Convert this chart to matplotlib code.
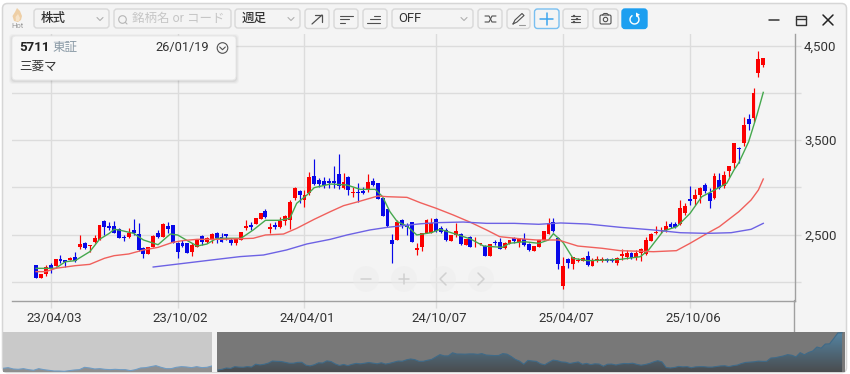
import numpy as np
import matplotlib
matplotlib.use('Agg')
import matplotlib.pyplot as plt
from matplotlib.patches import FancyBboxPatch, Circle, Rectangle, Polygon
from matplotlib.ticker import FixedLocator, FuncFormatter, NullFormatter
from matplotlib.transforms import ScaledTranslation

plt.rcParams['font.family'] = ['Roboto', 'Noto Sans CJK JP', 'DejaVu Sans']

# weekly candles
opens = [2177,2036,2082,2177,2170,2241,2227,2230,2262,2364,2406,2382,2421,2442,2639,2586,2590,2562,2477,2470,
         2544,2509,2353,2290,2371,2512,2477,2593,2597,2413,2406,2406,2318,2371,2484,2424,2449,2519,2477,2502,
         2442,2407,2442,2569,2601,2611,2664,2752,2562,2597,2583,2643,2654,2883,2964,2865,2936,3119,3077,3070,
         3063,3070,3137,2996,3105,2943,2946,2964,2971,3063,3041,2886,2766,2442,2442,2654,2604,2629,2336,2364,
         2520,2520,2664,2565,2548,2431,2491,2502,2389,2474,2417,2396,2382,2273,2424,2417,2354,2400,2460,2417,
         2453,2400,2329,2364,2442,2502,2629,2467,1959,2237,2188,2216,2220,2273,2167,2223,2223,2241,2237,2202,
         2272,2265,2301,2265,2301,2290,2435,2512,2534,2548,2608,2608,2608,2724,2872,2872,2922,3020,2936,2883,
         3073,3013,3175,3253,3412,3472,3726,3729,4205,4293]
highs = [2177,2082,2177,2195,2244,2283,2227,2265,2318,2498,2420,2392,2495,2600,2653,2636,2639,2570,2495,2565,
         2660,2618,2371,2370,2490,2548,2625,2636,2600,2420,2442,2410,2406,2449,2495,2470,2519,2525,2512,2510,
         2460,2456,2527,2654,2636,2671,2724,2766,2618,2636,2682,2706,2865,3006,2971,2971,3165,3295,3094,3112,
         3094,3225,3348,3147,3119,3006,3041,2999,3140,3094,3048,2890,2770,2502,2654,2660,2618,2636,2407,2512,
         2660,2671,2671,2590,2565,2495,2618,2512,2449,2484,2477,2415,2385,2396,2442,2460,2424,2445,2477,2467,
         2512,2407,2378,2442,2541,2671,2678,2477,2266,2248,2266,2248,2266,2322,2248,2276,2266,2255,2255,2266,
         2343,2336,2310,2336,2353,2477,2512,2590,2576,2643,2629,2636,2865,2830,3013,2978,3006,3048,2988,3147,
         3154,3175,3225,3472,3422,3740,3775,4047,4445,4364]
lows = [2036,2036,2061,2096,2170,2202,2152,2230,2212,2343,2345,2318,2406,2440,2495,2548,2512,2459,2435,2459,
        2495,2329,2248,2290,2371,2459,2470,2512,2413,2248,2371,2308,2272,2365,2389,2410,2406,2406,2424,2442,
        2389,2389,2442,2548,2548,2611,2664,2671,2519,2555,2565,2601,2555,2865,2830,2795,2918,3024,3006,2989,
        2989,2989,2978,2978,2918,2900,2840,2929,2953,3013,2872,2696,2576,2195,2442,2565,2495,2417,2283,2326,
        2520,2515,2523,2512,2431,2431,2477,2389,2389,2364,2371,2385,2273,2270,2389,2343,2343,2395,2407,2371,
        2378,2326,2329,2364,2442,2502,2530,2135,1920,2142,2135,2209,2216,2167,2167,2213,2213,2206,2212,2177,
        2230,2237,2237,2230,2223,2283,2435,2505,2512,2530,2565,2565,2601,2706,2812,2812,2830,2943,2777,2872,
        2978,2988,3112,3200,3260,3436,3606,3694,4163,4269]
closes = [2036,2082,2160,2131,2244,2216,2205,2248,2220,2399,2353,2392,2463,2597,2576,2569,2519,2459,2459,2512,
          2519,2336,2294,2364,2484,2473,2607,2562,2413,2318,2382,2308,2392,2449,2421,2459,2505,2463,2424,2488,
          2407,2456,2527,2594,2583,2671,2724,2682,2576,2579,2643,2696,2848,2996,2918,2918,3112,3034,3034,3024,
          3041,3041,3013,3059,2971,2953,2936,2943,3059,3027,2879,2696,2590,2400,2636,2601,2576,2424,2361,2512,
          2654,2618,2541,2523,2442,2495,2541,2396,2449,2371,2424,2407,2273,2396,2407,2347,2407,2442,2431,2460,
          2389,2336,2378,2442,2541,2618,2541,2188,2163,2195,2259,2230,2248,2177,2230,2244,2241,2216,2216,2255,
          2290,2301,2248,2308,2343,2442,2509,2530,2548,2590,2576,2576,2784,2802,2858,2914,2996,2957,2854,3119,
          2988,3130,3221,3472,3401,3659,3669,4001,4353,4364]

# moving averages, as (week, price) readings
green_x = [0,2,4,6,8,11,13,15,16,17,20,22,25,27.5,29,31,33,35,37,38,42,44.5,47,49.7,52,53.4,55.5,57,60.3,63.7,66.4,
           69.5,71,72.5,74,76,78,81,82.8,85.5,89,91.7,95.5,97,100,103,105,106,108,110,113,117,119.7,123.8,125.5,
           128.5,131.3,134,136.4,138,141.5,143,144,146,147.7,149]
green_y = [2142,2142,2142,2212,2223,2318,2449,2512,2555,2548,2512,2442,2392,2505,2495,2435,2378,2399,2459,2460,2460,
           2548,2650,2650,2671,2830,2918,2996,3034,3024,2978,2978,2900,2742,2636,2590,2495,2520,2555,2512,2453,2378,
           2364,2407,2424,2407,2442,2509,2414,2248,2223,2230,2237,2265,2336,2537,2583,2724,2900,2943,3041,3183,3260,
           3482,3764,4004]
red_x = [0,2,4,8,11,14,16,19,22,25,28,30,33,36,38,44.5,47,50.7,53.4,57,60.3,63,66,70,72,76,78.7,82,85.5,89,92.3,95,
         99,102.5,107,111,116,119.7,126.5,131.2,134,137.5,140,144,146.5,148,149]
red_y = [2107,2107,2142,2170,2184,2248,2276,2294,2336,2364,2417,2435,2449,2449,2449,2460,2495,2505,2565,2661,2742,2805,
         2847,2907,2900,2893,2837,2777,2706,2629,2548,2477,2456,2442,2442,2378,2354,2329,2318,2329,2407,2512,2583,
         2742,2865,2971,3087]
blue_x = [24,37.7,41.8,46.6,51.3,55.5,60.3,63.7,68.4,72,78.7,82,87.5,92.3,98,103,107.5,113,119.7,126.5,132,137.5,142.4,
          146.5,149]
blue_y = [2156,2241,2266,2283,2336,2400,2449,2495,2548,2576,2613,2625,2632,2618,2618,2608,2622,2611,2576,2548,2519,2512,
          2519,2555,2618]

# older closes that only show in the navigator
nav_history = [2141,2182,2099,2078,2120,2057,2016,2120,2057,2016,1974,1974,1953,1995,2036,2057,2203,2162,2099,2120,2078,
               2057,2078,2057,2057,1995,2057,2162,2182,2245,2307,2203,2120,2120,2203,2245,2224,2182,2245,2182,2203,2287]

grid_prices = [2000, 2500, 3000, 3500, 4000, 4500]
label_prices = [2500, 3500, 4500]
date_weeks = [3, 29, 55, 82, 108, 134]
date_labels = ['23/04/03', '23/10/02', '24/04/01', '24/10/07', '25/04/07', '25/10/06']

UP = '#fb0000'
DOWN = '#0808e8'
GRID = '#dcdcdc'
AXIS = '#a0a0a0'
TEXT = '#333333'
BORDER = '#d8d8d8'
ICON = '#505050'
BG = '#f4f4f4'
W, H = 850, 374


def box(a, x0, y0, x1, y1, fc=BG, ec=BORDER, r=3, lw=1.0, z=2):
    a.add_patch(FancyBboxPatch((x0 + r, y0 + r), x1 - x0 - 2 * r, y1 - y0 - 2 * r,
                               boxstyle='round,pad=%s,rounding_size=%s' % (r, r),
                               fc=fc, ec=ec, lw=lw, zorder=z))


def line(a, xs, ys, c=ICON, lw=0.9, z=4):
    a.plot(xs, ys, color=c, lw=lw, zorder=z, solid_capstyle='round', solid_joinstyle='round')


def chevron(a, cx, cy, c='#b0b0b0'):
    line(a, [cx - 3, cx, cx + 3], [cy - 1.5, cy + 1.5, cy - 1.5], c=c, lw=0.8)


def px_axes(z):
    a = fig.add_axes([0, 0, 1, 1], zorder=z)
    a.set_xlim(0, W)
    a.set_ylim(H, 0)
    a.axis('off')
    return a


def inset(x0, y0, x1, y1, z=2):
    return fig.add_axes([x0 / W, (H - y1) / H, (x1 - x0) / W, (y1 - y0) / H], zorder=z)


def navigator(a, xs, ys, bg, col, top, bottom, xlim):
    a.set_facecolor(bg)
    poly = a.fill_between(xs, ys, 1911, color='none')
    grad = np.linspace(0, 1, 64)[:, None, None] * (np.array(bottom) - np.array(top)) + np.array(top)
    im = a.imshow(grad, extent=[xs[0], xs[-1], 1911, 4411], origin='upper', aspect='auto', zorder=1)
    im.set_clip_path(poly.get_paths()[0], transform=a.transData)
    a.plot(xs, ys, color=col, lw=0.8, zorder=2)
    a.set_xlim(*xlim)
    a.set_ylim(1911, 4411)
    a.set_xticks([])
    a.set_yticks([])
    for s in a.spines.values():
        s.set_visible(False)


fig = plt.figure(figsize=(8.5, 3.74), dpi=100, facecolor='white')

# window and toolbar
ui = px_axes(0)
box(ui, 2.5, 3.5, 846.5, 372.5, fc=BG, ec='#d6d6d6', r=5, lw=1.1, z=1)

# flame icon
ui.add_patch(Polygon([(14, 21), (12.5, 16), (15, 12), (17, 8), (20, 11), (22, 16), (21, 20), (18, 22)],
                     fc='#eecfa6', ec='none', zorder=3))
ui.add_patch(Polygon([(16, 21), (15.5, 17), (18, 14), (20, 18), (19, 21)], fc='#f6e3c9', ec='none', zorder=4))
ui.text(18, 25.5, 'Hot', fontsize=5.5, color='#999999', ha='center', va='center')

box(ui, 34, 9, 109, 28)
ui.text(41, 18.5, '株式', fontsize=9, color=TEXT, va='center', fontweight='medium')
chevron(ui, 100, 19)
box(ui, 114, 9, 231, 28)
ui.add_patch(Circle((122.5, 19.5), 3.8, fc='none', ec='#b5b5b5', lw=0.8, zorder=4))
line(ui, [125.5, 127], [22.5, 24], c='#b5b5b5', lw=0.8)
ui.text(132.5, 18.5, '銘柄名 or コード', fontsize=9, color='#c6c6c6', va='center')
box(ui, 235, 9, 300, 28)
ui.text(242, 18.5, '週足', fontsize=9, color=TEXT, va='center', fontweight='medium')
chevron(ui, 291, 19)
box(ui, 392, 9, 473, 28)
ui.text(398.5, 18.5, 'OFF', fontsize=9.4, color=TEXT, va='center')
chevron(ui, 464, 19)

for x0, x1 in [(305, 329), (334, 358), (363, 387), (478, 502), (507, 530), (563, 588), (593, 618)]:
    box(ui, x0, 9, x1, 28.5)
box(ui, 534.5, 9, 559, 28.5, ec='#79bff0')
box(ui, 622, 9, 647, 28.5, fc='#1d9ff0', ec='#1d9ff0')

# toolbar glyphs
line(ui, [312, 322], [24, 15])
line(ui, [315.5, 322, 322], [15, 15, 21.5])
for y, x1 in [(15.5, 353), (19, 349), (22.5, 345)]:
    line(ui, [340, x1], [y, y], lw=0.8)
for y, x0 in [(15.5, 374), (19, 370), (22.5, 367)]:
    line(ui, [x0, 380], [y, y], lw=0.8)
line(ui, [485, 489, 492, 496], [16, 16, 22, 22], lw=0.8)
line(ui, [485, 489, 492, 496], [22, 22, 16, 16], lw=0.8)
line(ui, [513, 515, 522, 524, 517, 513], [24, 20, 13.5, 15.5, 22, 24], lw=0.8)
line(ui, [519, 525], [24.5, 24.5], c='#999999', lw=0.8)
line(ui, [547, 547], [13, 25], c='#3da5ee', lw=1.1)
line(ui, [540.5, 553.5], [19, 19], c='#3da5ee', lw=1.1)
for y in (16, 19, 22):
    line(ui, [571, 580], [y, y], lw=0.8)
for cx, y in [(574, 16), (577, 19), (574, 22)]:
    ui.add_patch(Circle((cx, y), 1.2, fc=ICON, ec='none', zorder=5))
ui.add_patch(FancyBboxPatch((600, 15), 11, 9, boxstyle='round,pad=0,rounding_size=1.5', fc='none', ec=ICON, lw=0.8,
                            zorder=4))
line(ui, [602.5, 604, 607, 608.5], [15, 13.5, 13.5, 15], lw=0.8)
ui.add_patch(Circle((605.5, 19.5), 2.2, fc='none', ec=ICON, lw=0.8, zorder=5))
theta = np.radians(np.arange(-50, 250, 15))
ui.plot(634.5 + 4.5 * np.cos(theta), 19.5 + 4.5 * np.sin(theta), color='white', lw=1.0, zorder=5)
ui.add_patch(Polygon([(636, 12.5), (640, 14.8), (636, 17)], fc='white', ec='none', zorder=5))

# window buttons
line(ui, [769, 779], [20, 20], c='#333333', lw=1.1)
ui.add_patch(Rectangle((796, 15.5), 10.5, 9.5, fc='none', ec='#333333', lw=1.0, zorder=4))
line(ui, [796, 806.5], [18.5, 18.5], c='#333333', lw=1.0)
line(ui, [823, 833], [15, 25], c='#222222', lw=1.1)
line(ui, [823, 833], [25, 15], c='#222222', lw=1.1)

# price chart
ax = inset(12, 34, 795, 301, z=1)
ax.patch.set_alpha(0)
x = np.arange(len(closes))
opens_a, closes_a = np.array(opens), np.array(closes)
up = closes_a >= opens_a
colors = np.where(up, UP, DOWN)
ax.vlines(x, lows, highs, colors=colors, lw=0.85, zorder=3)
ax.bar(x, np.abs(closes_a - opens_a), bottom=np.minimum(opens_a, closes_a), width=0.8, color=colors, lw=0, zorder=3)
ax.plot(green_x, green_y, color='#45a84e', lw=1.0, zorder=4)
ax.plot(red_x, red_y, color='#f0605c', lw=1.0, zorder=4)
ax.plot(blue_x, blue_y, color='#6d62e4', lw=1.0, zorder=4)

ax.set_xlim(-4.93, 155.5)
ax.set_ylim(1796.3, 4621.7)
ax.yaxis.tick_right()
ax.yaxis.set_major_locator(FixedLocator(label_prices))
ax.yaxis.set_major_formatter(FuncFormatter(lambda v, p: format(int(v), ',')))
ax.yaxis.set_minor_locator(FixedLocator([p for p in grid_prices if p not in label_prices]))
ax.yaxis.set_minor_formatter(NullFormatter())
ax.set_xticks(date_weeks)
ax.set_xticklabels(date_labels)
ax.grid(True, which='both', color=GRID, lw=1.0, zorder=0)
ax.set_axisbelow(True)
ax.tick_params(axis='y', which='both', length=4, color=GRID, width=1.0, labelsize=9.5, labelcolor=TEXT, pad=2.6)
ax.tick_params(axis='x', length=5, color=GRID, width=1.0, labelsize=9.5, labelcolor=TEXT, pad=3)
# the date labels sit a little right of their ticks
shift = ScaledTranslation(3 / 100, 0, fig.dpi_scale_trans)
for lab in ax.get_xticklabels():
    lab.set_transform(lab.get_transform() + shift)
for side in ('top', 'left'):
    ax.spines[side].set_visible(False)
for side in ('bottom', 'right'):
    ax.spines[side].set_color(AXIS)
    ax.spines[side].set_linewidth(1.0)
line(ui, [794.5, 794.5], [300, 332], c=AXIS, lw=1.0, z=2)

# navigator
ui.add_patch(Rectangle((212, 332), 5, 40, fc='#f2f2f2', ec='none', zorder=3))
nav_left = inset(3, 332, 212, 372)
navigator(nav_left, np.arange(len(nav_history)), nav_history, '#c9c9c9', '#6f9cc4',
          (0.60, 0.64, 0.68), (0.56, 0.56, 0.56), (0, len(nav_history) - 1))
nav_right = inset(217, 332, 845, 372)
navigator(nav_right, x, closes, '#787878', '#3f6a88',
          (0.33, 0.52, 0.64), (0.29, 0.30, 0.31), (-0.24, 149.7))

# overlay: info card and pan buttons
top = px_axes(3)
for grow, a in [(3, 0.025), (2, 0.035), (1, 0.05)]:
    top.add_patch(FancyBboxPatch((16 - grow, 40 - grow + 1), 216 + 2 * grow, 36 + 2 * grow,
                                 boxstyle='round,pad=4,rounding_size=4', fc='black', ec='none', alpha=a, zorder=1))
box(top, 12, 36, 236, 80, fc='#f7f7f7', ec='#e8e8e8', r=4, lw=0.7, z=2)
top.text(19.5, 47.5, '5711', fontsize=9.5, fontweight='bold', color='#222222', va='center')
top.text(52, 47.5, '東証', fontsize=9, color='#8a9aa6', va='center')
top.text(155, 47.5, '26/01/19', fontsize=9.2, color=TEXT, va='center')
top.add_patch(Circle((222.5, 48), 5.3, fc='none', ec=ICON, lw=0.8, zorder=4))
line(top, [219.7, 222.5, 225.3], [47, 49.7, 47], lw=0.8)
top.text(19, 66.5, '三菱マ', fontsize=9, color=TEXT, va='center')

for cx in (366, 404, 443, 481):
    top.add_patch(Circle((cx, 279), 13, fc='#ececec', ec='none', alpha=0.4, zorder=1))
GHOST = '#d0d0d0'
line(top, [361, 371], [279, 279], c=GHOST, lw=1.1)
line(top, [399, 409], [279, 279], c=GHOST, lw=1.1)
line(top, [404, 404], [274, 284], c=GHOST, lw=1.1)
line(top, [446, 440, 446], [273, 279, 285], c=GHOST, lw=1.1)
line(top, [478, 484, 478], [273, 279, 285], c=GHOST, lw=1.1)

fig.savefig('out.png', dpi=100)
